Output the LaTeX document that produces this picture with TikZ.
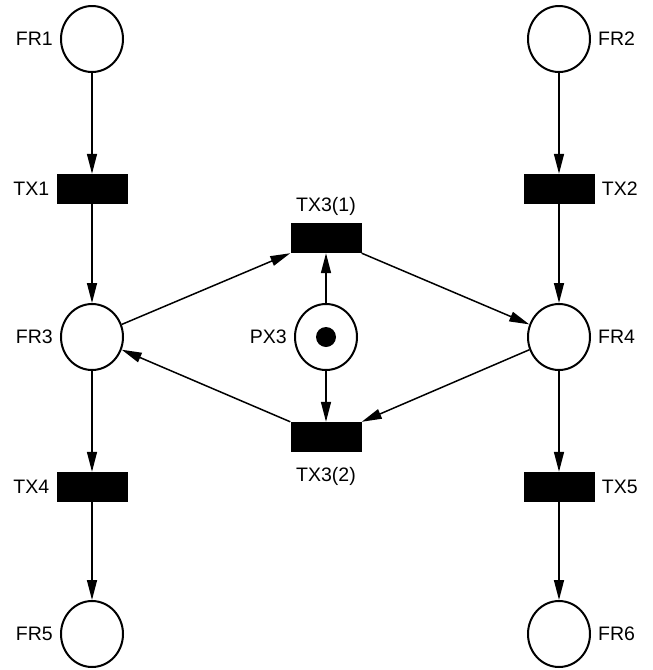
\documentclass[tikz,border=0pt]{standalone}
\usepackage{fontspec}
\setmainfont{Liberation Sans}
\usetikzlibrary{shapes.geometric,arrows.meta}
\begin{document}
\begin{tikzpicture}[x=1pt,y=-1pt,
  place/.style={ellipse,draw,line width=2pt,minimum width=62pt,minimum height=66pt,inner sep=0pt},
  trans/.style={rectangle,fill=black,minimum width=71pt,minimum height=30pt,inner sep=0pt},
  lbl/.style={font=\fontsize{19.5}{23}\selectfont,inner sep=0pt},
  every label/.style={lbl},
  arc/.style={line width=1.5pt,-{Triangle[length=20pt,width=10pt]}},
  label distance=7pt]
\useasboundingbox (0,0) rectangle (653,670);
% places
\node[place,label=left:FR1] (fr1) at (92,39) {};
\node[place,label=right:FR2] (fr2) at (559,39) {};
\node[place,label=left:FR3] (fr3) at (92,337) {};
\node[place,label=left:PX3] (px3) at (326,337) {};
\node[place,label=right:FR4] (fr4) at (559,337) {};
\node[place,label=left:FR5] (fr5) at (92,634) {};
\node[place,label=right:FR6] (fr6) at (559,634) {};
\fill (px3.center) circle (10pt);
% transitions
\node[trans,label=left:TX1] (tx1) at (92,189) {};
\node[trans,label=right:TX2] (tx2) at (559,189) {};
\node[trans,label={[label distance=7pt]above:TX3(1)}] (tx31) at (326,238) {};
\node[trans,label={[label distance=15pt]below:TX3(2)}] (tx32) at (326,437) {};
\node[trans,label=left:TX4] (tx4) at (92,487) {};
\node[trans,label=right:TX5] (tx5) at (559,487) {};
% arcs
\draw[arc] (fr1) -- (tx1);
\draw[arc] (tx1) -- (fr3);
\draw[arc] (fr2) -- (tx2);
\draw[arc] (tx2) -- (fr4);
\draw[arc] (fr3) -- (tx31.south west);
\draw[arc] (tx31.south east) -- (fr4);
\draw[arc] (px3) -- (tx31);
\draw[arc] (px3) -- (tx32);
\draw[arc] (fr4) -- (tx32.north east);
\draw[arc] (tx32.north west) -- (fr3);
\draw[arc] (fr3) -- (tx4);
\draw[arc] (tx4) -- (fr5);
\draw[arc] (fr4) -- (tx5);
\draw[arc] (tx5) -- (fr6);
\end{tikzpicture}
\end{document}
